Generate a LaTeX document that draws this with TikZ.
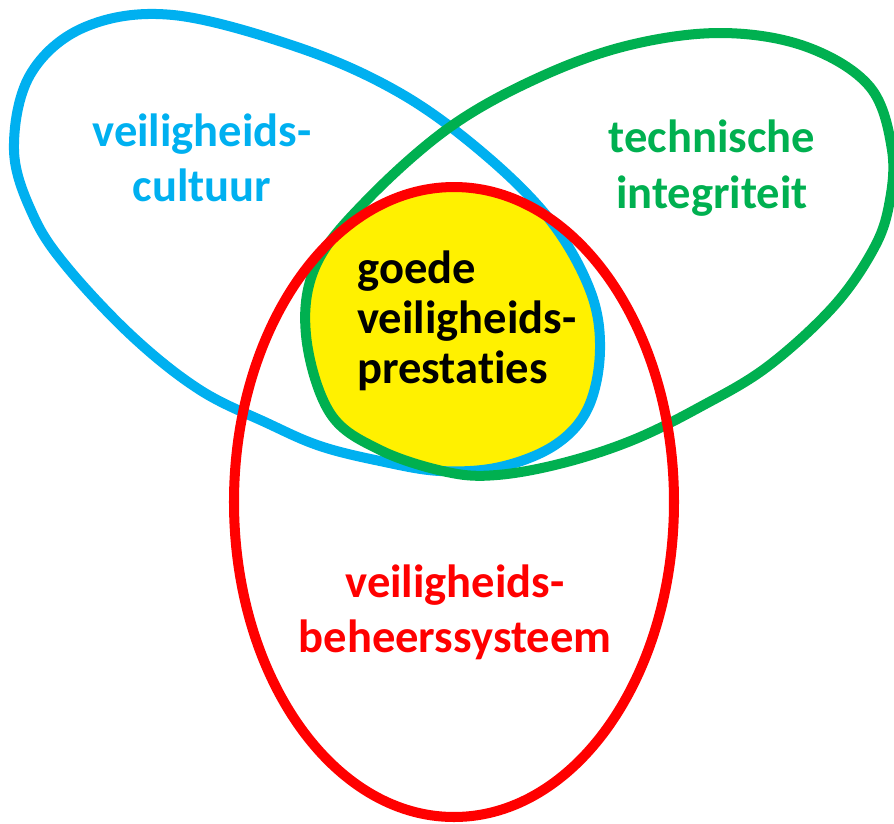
\documentclass[tikz,border=0pt]{standalone}
\usepackage{fontspec}
\setmainfont{Carlito}[Ligatures=NoCommon, RawFeature={-clig}]
\definecolor{ringblue}{HTML}{00B0F0}
\definecolor{ringgreen}{HTML}{00B050}
\definecolor{ringred}{HTML}{FF0000}
\definecolor{coreyellow}{HTML}{FFF100}
\tikzset{
    ring/.style={line width=5.7pt},
    label/.style={inner sep=0pt, font=\bfseries\fontsize{26.5}{31.5}\selectfont, align=center}
}
\begin{document}
\begin{tikzpicture}[x=0.02cm, y=-0.02cm]
        \useasboundingbox (0,0) rectangle (894,823);

        % the three rings
        \path[save path=\bluering] plot[smooth cycle, tension=0.6] coordinates {
            (173,15) (300,48) (400,93) (483,153) (550,220) (590,290) (600,350)
            (588,408) (555,445) (500,467) (440,471) (380,461) (320,446) (267,423)
            (200,390) (133,337) (67,267) (33,215) (14,150) (30,75) (85,27)};
        \path[save path=\greenring] plot[smooth cycle, tension=0.6] coordinates {
            (723,33) (807,47) (870,87) (892,150) (889,205) (873,250) (833,307)
            (767,367) (700,407) (633,440) (563,463) (497,475) (447,472) (380,450)
            (330,413) (306,335) (316,265) (367,200) (450,127) (540,77) (630,45)};
        \path[save path=\redring] (454,502) ellipse [x radius=220, y radius=315];

        % core where all three meet
        \begin{scope}
            \clip[use path=\bluering];
            \clip[use path=\greenring];
            \fill[coreyellow, use path=\redring];
        \end{scope}

        \draw[ring, ringblue, use path=\bluering];
        \draw[ring, ringgreen, use path=\greenring];
        \draw[ring, ringred, use path=\redring];

        \node[label, ringblue] (cultuur) at (202,158) {veiligheids-\\cultuur};
        \node[label, ringgreen] (techniek) at (712,168) {technische\\integriteit};
        \node[label, ringred] (systeem) at (455,612) {veiligheids-\\beheerssysteem};
        \node[label, align=left, font=\bfseries\fontsize{26.5}{28.5}\selectfont, anchor=north west]
            (prestaties) at (357,250) {goede\\veiligheids-\\prestaties};
    \end{tikzpicture}
\end{document}
